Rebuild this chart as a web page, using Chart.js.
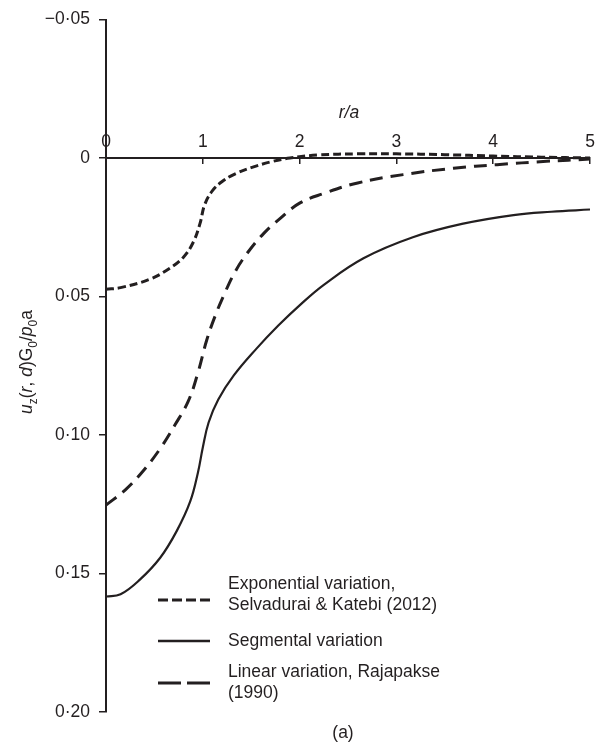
<!DOCTYPE html>
<html>
<head>
<meta charset="utf-8">
<title>Surface displacement u_z(r, d)</title>
<script src="https://cdn.jsdelivr.net/npm/chart.js@4.4.1/dist/chart.umd.min.js"></script>
<style>
  html, body { margin: 0; padding: 0; background: #fff; }
  canvas { display: block; }
</style>
</head>
<body>
<canvas id="dispChart" width="601" height="747"></canvas>
<script>
// r/a and normalised displacement u_z(r, d)G0/p0a for each shear modulus variation
const expR = [0, 0.15, 0.45, 0.65, 0.8, 0.9, 0.97, 1.02, 1.1, 1.2, 1.33, 1.5, 1.7, 1.9, 2.2, 2.6, 3.0, 3.5, 4.0, 4.5, 5.0];
const expU = [0.0474, 0.0468, 0.0438, 0.040, 0.0358, 0.0305, 0.0238, 0.0168, 0.0118, 0.0085, 0.0058, 0.0035, 0.0014, 0.0, -0.0011, -0.0015, -0.0015, -0.0012, -0.0007, -0.0003, 0.0];

const segR = [0, 0.15, 0.35, 0.56, 0.73, 0.87, 0.95, 1.0, 1.06, 1.16, 1.32, 1.55, 1.78, 2.0, 2.25, 2.66, 3.17, 3.69, 4.21, 4.6, 5.0];
const segU = [0.1583, 0.1575, 0.1522, 0.1443, 0.1347, 0.124, 0.1135, 0.1045, 0.0955, 0.0872, 0.0785, 0.069, 0.0605, 0.0532, 0.0458, 0.0362, 0.0286, 0.0237, 0.0206, 0.0194, 0.0186];

const linR = [0, 0.2, 0.39, 0.56, 0.71, 0.85, 0.95, 1.04, 1.13, 1.22, 1.33, 1.46, 1.63, 1.8, 2.0, 2.25, 2.6, 3.07, 3.59, 4.04, 4.55, 5.0];
const linU = [0.1253, 0.1198, 0.1127, 0.1049, 0.0965, 0.0878, 0.0775, 0.0658, 0.0568, 0.0493, 0.0413, 0.0343, 0.0272, 0.0218, 0.0163, 0.0128, 0.009, 0.006, 0.0037, 0.0024, 0.0012, 0.0004];

const seriesLabels = [
  ['Exponential variation,', 'Selvadurai & Katebi (2012)'],
  ['Segmental variation'],
  ['Linear variation, Rajapakse', '(1990)']
];
const xMin = 0, xMax = 5;
const yMin = -0.05, yMax = 0.20, yStep = 0.05;

const INK = '#231f20';
const FONT = '"Liberation Sans", Arial, sans-serif';
const SIZE = 17.5;

const toPoints = (rs, us) => rs.map((r, i) => ({ x: r, y: us[i] }));

// 0.05 -> "0·05", -0.05 -> "−0·05"
function fmtTick(v) {
  if (Math.abs(v) < 1e-9) return '0';
  const s = Math.abs(v).toFixed(2).replace('.', '\u00B7');
  return v < 0 ? '\u2212' + s : s;
}

// text made of italic / subscript runs, laid out along a baseline
function runsWidth(ctx, runs) {
  let w = 0;
  runs.forEach(run => {
    ctx.font = (run.it ? 'italic ' : '') + (run.sub ? SIZE * 0.68 : SIZE) + 'px ' + FONT;
    w += ctx.measureText(run.t).width;
  });
  return w;
}
function drawRuns(ctx, runs, x, y) {
  runs.forEach(run => {
    ctx.font = (run.it ? 'italic ' : '') + (run.sub ? SIZE * 0.68 : SIZE) + 'px ' + FONT;
    ctx.fillText(run.t, x, y + (run.sub ? SIZE * 0.28 : 0));
    x += ctx.measureText(run.t).width;
  });
}

const yTitle = [
  { t: 'u', it: true }, { t: 'z', sub: true }, { t: '(' }, { t: 'r', it: true },
  { t: ', ' }, { t: 'd', it: true }, { t: ')G' }, { t: '0', sub: true },
  { t: '/' }, { t: 'p', it: true }, { t: '0', sub: true }, { t: 'a' }
];

const legendDash = [[10, 4], [], [23, 6]];
const legendWidth = [3, 2.5, 3];

const extras = {
  id: 'extras',
  afterDraw(chart) {
    const ctx = chart.ctx;
    ctx.save();
    ctx.fillStyle = INK;
    ctx.textBaseline = 'alphabetic';
    ctx.textAlign = 'left';

    // rotated y title
    ctx.save();
    ctx.translate(26, 362);
    ctx.rotate(-Math.PI / 2);
    drawRuns(ctx, yTitle, -runsWidth(ctx, yTitle) / 2, 6);
    ctx.restore();

    ctx.textBaseline = 'middle';
    ctx.textAlign = 'center';
    ctx.font = 'italic ' + SIZE + 'px ' + FONT;
    ctx.fillText('r/a', 349, 113);
    ctx.font = SIZE + 'px ' + FONT;
    ctx.fillText('(a)', 343, 733);

    // legend
    const rows = [600, 641, 683];
    const textY = [[584, 605], [641], [672, 693]];
    ctx.textAlign = 'left';
    ctx.strokeStyle = INK;
    rows.forEach((y, i) => {
      ctx.beginPath();
      ctx.lineWidth = legendWidth[i];
      ctx.setLineDash(legendDash[i]);
      ctx.moveTo(158, y);
      ctx.lineTo(210, y);
      ctx.stroke();
      seriesLabels[i].forEach((line, j) => ctx.fillText(line, 228, textY[i][j]));
    });
    ctx.restore();
  }
};

new Chart(document.getElementById('dispChart').getContext('2d'), {
  type: 'line',
  data: {
    datasets: [
      {
        label: seriesLabels[0].join(' '),
        data: toPoints(expR, expU),
        borderColor: INK,
        borderWidth: 3,
        borderDash: [8, 4],
        tension: 0.4,
        pointRadius: 0
      },
      {
        label: seriesLabels[1].join(' '),
        data: toPoints(segR, segU),
        borderColor: INK,
        borderWidth: 2.2,
        tension: 0.4,
        pointRadius: 0
      },
      {
        label: seriesLabels[2].join(' '),
        data: toPoints(linR, linU),
        borderColor: INK,
        borderWidth: 3,
        borderDash: [13, 8],
        tension: 0.4,
        pointRadius: 0
      }
    ]
  },
  options: {
    responsive: false,
    animation: false,
    layout: { padding: { left: 0, right: 11, top: 16, bottom: 35 } },
    plugins: { legend: { display: false }, tooltip: { enabled: false } },
    scales: {
      x: {
        type: 'linear',
        position: { y: 0 },
        min: xMin,
        max: xMax,
        ticks: {
          stepSize: 1,
          color: INK,
          padding: -31,
          font: { family: FONT, size: SIZE },
          maxRotation: 0
        },
        grid: { drawOnChartArea: false, tickLength: 5, color: INK, lineWidth: 1.5 },
        border: { color: INK, width: 2 }
      },
      y: {
        type: 'linear',
        position: 'left',
        reverse: true,
        min: yMin,
        max: yMax,
        afterFit: s => { s.width = 106; },
        ticks: {
          stepSize: yStep,
          color: INK,
          padding: 9,
          font: { family: FONT, size: SIZE },
          callback: v => fmtTick(v)
        },
        grid: { drawOnChartArea: false, tickLength: 7, color: INK, lineWidth: 1.5 },
        border: { color: INK, width: 2 }
      }
    }
  },
  plugins: [extras]
});
</script>
</body>
</html>
